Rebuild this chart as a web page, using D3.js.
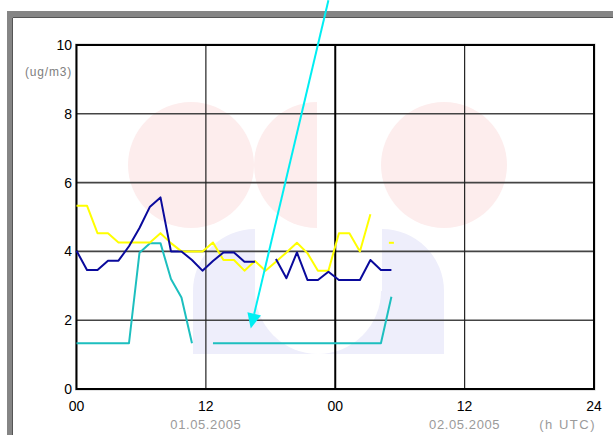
<!DOCTYPE html>
<html>
<head>
<meta charset="utf-8">
<script src="https://cdn.jsdelivr.net/npm/d3@7"></script>
<style>
  body { margin: 0; background: #fff; }
  text { font-family: "Liberation Sans", Arial, sans-serif; }
</style>
</head>
<body>
<div id="chart"></div>
<script>
// hourly values, one slot per hour (null = no data)
var navySeries = [4.02, 3.46, 3.46, 3.73, 3.73, 4.15, 4.68, 5.30, 5.57, 4.00, 4.00, 3.75, 3.44, 3.72, 3.97, 3.97,
  3.70, 3.70, null, 3.78, 3.22, 3.97, 3.17, 3.17, 3.41, 3.17, 3.17, 3.17, 3.75, 3.46, 3.46];
var yellowSeries = [5.33, 5.33, 4.53, 4.53, 4.26, 4.26, 4.26, 4.26, 4.53, 4.24, 4.00, 4.00, 4.00, 4.26, 3.75, 3.75,
  3.44, 3.72, 3.44, 3.70, 3.97, 4.25, 3.95, 3.44, 3.44, 4.53, 4.53, 4.00, 5.08, null, 4.25];
var tealSeries = [1.33, 1.33, 1.33, 1.33, 1.33, 1.33, 3.96, 4.24, 4.24, 3.20, 2.66, 1.33, null, 1.33, 1.33, 1.33,
  1.33, 1.33, 1.33, 1.33, 1.33, 1.33, 1.33, 1.33, 1.33, 1.33, 1.33, 1.33, 1.33, 1.33, 2.68];

var yTicks = [0, 2, 4, 6, 8, 10];
var xTickHours = [0, 12, 24, 36, 48];
var xTickLabels = ["00", "12", "00", "12", "24"];
var dateHours = [12, 36];
var dateLabels = ["01.05.2005", "02.05.2005"];
var unitY = "(ug/m3)";
var unitX = "(h UTC)";
// annotation arrow, in slot / value coordinates
var arrowFrom = {t: 24.0, v: 11.3};
var arrowTo = {t: 16.6, v: 1.76};

var width = 613, height = 435;
var plotLeft = 76.5, plotRight = 594, plotTop = 45, plotBottom = 389;

var svg = d3.select("#chart").append("svg").attr("width", width).attr("height", height);

var x = d3.scaleLinear().domain([0, 48]).range([plotLeft, plotRight]);
var xs = d3.scaleLinear().domain([0, 49.3]).range([plotLeft, plotRight]); // data slots
var y = d3.scaleLinear().domain([0, 10]).range([plotBottom, plotTop]);

// window frame
svg.append("rect").attr("x", 7).attr("y", 11).attr("width", 700).attr("height", 500).attr("fill", "#858585");
svg.append("rect").attr("x", 13).attr("y", 18).attr("width", 700).attr("height", 500).attr("fill", "#fff");
svg.append("path").attr("d", "M13,17.5H613M12.5,18V435").attr("stroke", "#555").attr("stroke-width", 1);

// faded logo in the background
var logo = svg.append("g");
var pink = "#fdeded", lav = "#eeeefb";
logo.append("circle").attr("cx", 191).attr("cy", 165).attr("r", 63).attr("fill", pink);
logo.append("path").attr("d", "M317,102A63,63 0 0 0 317,228Z").attr("fill", pink);
logo.append("circle").attr("cx", 444).attr("cy", 165).attr("r", 63).attr("fill", pink);
logo.append("path")
  .attr("d", "M193,291A62,62 0 0 1 255,229V291H382V229A62,62 0 0 1 444,291V354H193Z")
  .attr("fill", lav);
logo.append("path").attr("d", "M255,291A63,63 0 0 0 381,291Z").attr("fill", "#fff");

// grid
svg.append("g").selectAll("line").data(yTicks.filter(function (d) { return d > 0 && d < 10; }))
  .enter().append("line")
  .attr("x1", plotLeft).attr("x2", plotRight)
  .attr("y1", function (d) { return y(d); }).attr("y2", function (d) { return y(d); })
  .attr("stroke", "#444").attr("stroke-width", 1.6);
svg.append("g").selectAll("line").data(xTickHours.slice(1, 4))
  .enter().append("line")
  .attr("x1", function (d) { return x(d); }).attr("x2", function (d) { return x(d); })
  .attr("y1", plotTop).attr("y2", plotBottom)
  .attr("stroke", function (d) { return d == 24 ? "#000" : "#222"; })
  .attr("stroke-width", function (d) { return d == 24 ? 2 : 1.2; });

// plot border with a light shadow
svg.append("rect").attr("x", plotLeft - 1).attr("y", plotTop - 1)
  .attr("width", plotRight - plotLeft + 2).attr("height", plotBottom - plotTop + 2)
  .attr("fill", "none").attr("stroke", "#c8c8c8").attr("stroke-width", 1);
svg.append("rect").attr("x", plotLeft).attr("y", plotTop)
  .attr("width", plotRight - plotLeft).attr("height", plotBottom - plotTop)
  .attr("fill", "none").attr("stroke", "#000").attr("stroke-width", 2);

// series
function drawSeries(values, color) {
  var pts = values.map(function (v, i) { return {i: i, v: v}; });
  var line = d3.line()
    .defined(function (d) { return d.v != null; })
    .x(function (d) { return xs(d.i); })
    .y(function (d) { return y(d.v); });
  svg.append("path").datum(pts).attr("d", line)
    .attr("fill", "none").attr("stroke", color).attr("stroke-width", 2).attr("stroke-linejoin", "round");
  // lone points show as a short dash
  pts.forEach(function (d, k) {
    if (d.v == null) return;
    var prev = k > 0 ? pts[k - 1].v : null, next = k < pts.length - 1 ? pts[k + 1].v : null;
    if (prev == null && next == null) {
      svg.append("line").attr("x1", xs(d.i) - 2.5).attr("x2", xs(d.i) + 2.5)
        .attr("y1", y(d.v)).attr("y2", y(d.v)).attr("stroke", color).attr("stroke-width", 2);
    }
  });
}
drawSeries(tealSeries, "#1dbfbf");
drawSeries(yellowSeries, "#ffff00");
drawSeries(navySeries, "#0a0a9c");

// arrow
var ax1 = xs(arrowFrom.t), ay1 = y(arrowFrom.v), ax2 = xs(arrowTo.t), ay2 = y(arrowTo.v);
var ang = Math.atan2(ay2 - ay1, ax2 - ax1);
var hl = 15, hw = 7;
var bx = ax2 - hl * Math.cos(ang), by = ay2 - hl * Math.sin(ang);
svg.append("line").attr("x1", ax1).attr("y1", ay1).attr("x2", bx).attr("y2", by)
  .attr("stroke", "#00eef2").attr("stroke-width", 2);
svg.append("path")
  .attr("d", "M" + ax2 + "," + ay2 +
    "L" + (bx + hw * Math.sin(ang)) + "," + (by - hw * Math.cos(ang)) +
    "L" + (bx - hw * Math.sin(ang)) + "," + (by + hw * Math.cos(ang)) + "Z")
  .attr("fill", "#00eef2");

// axis labels
svg.append("g").selectAll("text").data(yTicks).enter().append("text")
  .attr("x", 72).attr("y", function (d) { return y(d) + 5; })
  .attr("text-anchor", "end").attr("font-size", 14).attr("fill", "#000")
  .text(function (d) { return d; });
svg.append("text").attr("x", 72).attr("y", 76).attr("text-anchor", "end")
  .attr("font-size", 12).attr("letter-spacing", 0.8).attr("fill", "#808080").text(unitY);
svg.append("g").selectAll("text").data(xTickHours).enter().append("text")
  .attr("x", function (d) { return x(d); }).attr("y", 411)
  .attr("text-anchor", "middle").attr("font-size", 14).attr("fill", "#000")
  .text(function (d, i) { return xTickLabels[i]; });
svg.append("g").selectAll("text").data(dateHours).enter().append("text")
  .attr("x", function (d) { return x(d); }).attr("y", 429)
  .attr("text-anchor", "middle").attr("font-size", 13).attr("letter-spacing", 0.6).attr("fill", "#9a9a9a")
  .text(function (d, i) { return dateLabels[i]; });
svg.append("text").attr("x", 596).attr("y", 429).attr("text-anchor", "end")
  .attr("font-size", 13).attr("letter-spacing", 1.5).attr("xml:space", "preserve")
  .attr("fill", "#9a9a9a").text(unitX);
</script>
</body>
</html>
